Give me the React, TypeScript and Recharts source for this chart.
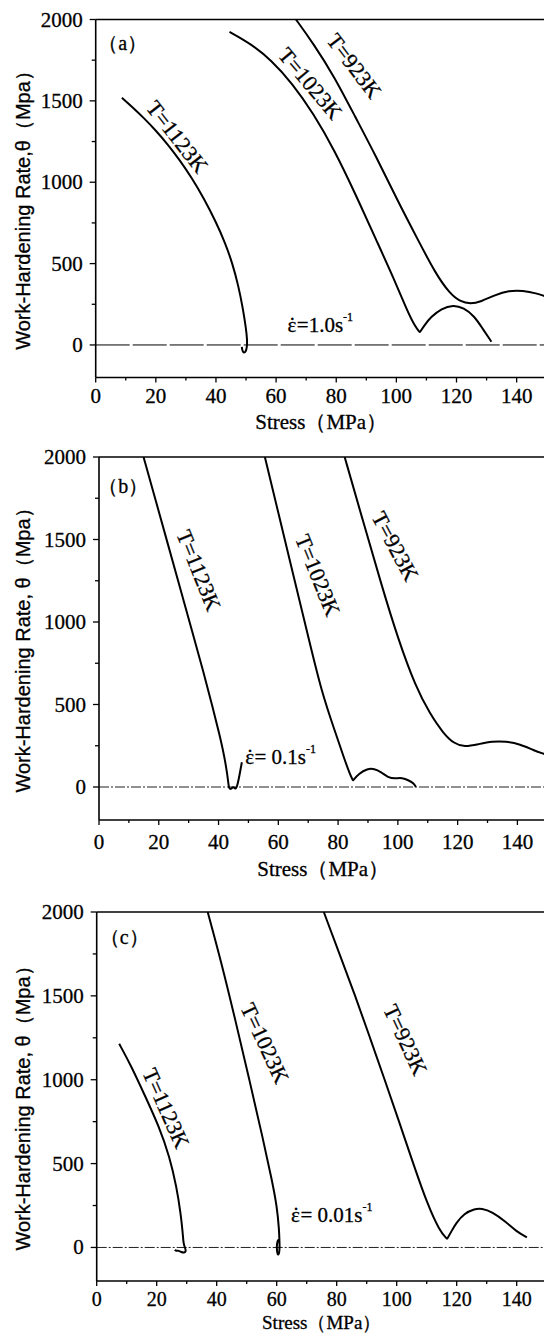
import React from "react";
import {
  LineChart,
  Line,
  XAxis,
  YAxis,
  ReferenceLine,
  ReferenceDot,
} from "recharts";

type Pair = [number, number];

// [stress (MPa), work-hardening rate theta (MPa)]

// (a) strain rate 1.0 s-1
const a1123K: Pair[] = [
  [8.7, 1519], [12, 1465], [16, 1395], [20, 1318], [24, 1232], [28, 1135],
  [32, 1025], [36, 900], [40, 755], [43, 630], [45.5, 500], [47.5, 360],
  [49, 220], [50, 100], [50.4, 30], [50.3, -15], [49.9, -42], [49.3, -50],
  [48.8, -38], [48.6, -12],
];
const a1023K: Pair[] = [
  [44.5, 1924], [51.5, 1852], [58.4, 1750], [65.4, 1607], [72.4, 1423],
  [79.4, 1197], [86.3, 931], [93.3, 645], [99.1, 410], [103.5, 215],
  [106.3, 110], [107.8, 78], [107.8, 78], [109.5, 125], [111.5, 172],
  [115, 224], [118.9, 246], [122.4, 228], [125.9, 178], [128.7, 100],
  [131.6, 20],
];
const a923K: Pair[] = [
  [66.6, 2000], [72.4, 1852], [79.4, 1648], [86.3, 1402], [93.3, 1157],
  [100.3, 890], [107.2, 645], [113.0, 440], [117.7, 317], [121.2, 266],
  [124.7, 252], [128.1, 266], [132.8, 307], [137.4, 334], [142.1, 334],
  [146.7, 317], [149.3, 300],
];

// (b) strain rate 0.1 s-1
const b1123K: Pair[] = [
  [14.9, 2000], [19, 1735], [23, 1475], [27, 1215], [31, 955], [35, 695],
  [38, 485], [40.3, 320], [41.9, 190], [42.9, 80], [43.3, 20], [43.5, -10],
  [44.2, -14], [44.9, 5], [45.5, -12], [46.1, -5], [46.8, 50], [47.8, 150],
];
const b1023K: Pair[] = [
  [55.5, 2000], [60, 1662], [65, 1287], [70, 912], [74.5, 575], [79, 335],
  [82, 175], [84, 75], [85, 40], [85, 40], [86.9, 81], [89.8, 111],
  [92.1, 111], [94.4, 91], [96.7, 57], [99.1, 51], [101.4, 57], [103.7, 40],
  [105.5, 20], [106.0, 0],
];
const b923K: Pair[] = [
  [82.2, 2000], [88.6, 1596], [94.4, 1232], [100.2, 889], [106.0, 606],
  [110.7, 444], [115.3, 323], [118.8, 263], [122.3, 242], [126.9, 259],
  [131.6, 277], [136.2, 277], [140.9, 259], [145.5, 222], [149, 200],
];

// (c) strain rate 0.01 s-1
const c1123K: Pair[] = [
  [7.5, 1214], [11.6, 1079], [16.2, 900], [20.8, 720], [24.3, 541],
  [26.6, 362], [28.0, 203], [28.7, 84], [28.9, 24], [29.5, -5], [29.8, -22],
  [29.2, -33], [28.2, -28], [27.3, -18], [26.6, -22], [26.0, -15],
];
const c1023K: Pair[] = [
  [37.0, 2000], [41.6, 1696], [46.2, 1357], [50.9, 999], [55.5, 641],
  [58.4, 402], [60.1, 243], [60.8, 103], [60.9, 44], [61.0, 0], [60.8, -40],
  [60.3, -46], [60.0, -10], [60.1, 30], [60.6, 50], [61.0, 40],
];
const c923K: Pair[] = [
  [75.7, 2000], [80.9, 1750], [86.2, 1500], [91.1, 1250], [96.0, 1000],
  [100.8, 750], [105.5, 500], [110.4, 250], [114.3, 100], [116.8, 50],
  [116.8, 50], [118.2, 95], [119.8, 145], [122.5, 203], [126.0, 230],
  [128.3, 233], [131.8, 213], [136.4, 153], [139.9, 95], [143.4, 60],
];

const xTicks = [0, 10, 20, 30, 40, 50, 60, 70, 80, 90, 100, 110, 120, 130, 140];
const yTicks = [0, 250, 500, 750, 1000, 1250, 1500, 1750, 2000];

const SERIF = "'Liberation Serif', 'Times New Roman', serif";
const SANS = "'Liberation Sans', Arial, sans-serif";

type Note = {
  text: string;
  x: number;
  y: number;
  angle?: number;
  rate?: string;
  anchor?: string;
};

const notesA: Note[] = [
  { text: "（a）", x: 9, y: 1856 },
  { text: "T=1123K", x: 27.1, y: 1279, angle: 52 },
  { text: "T=1023K", x: 71.4, y: 1607, angle: 50 },
  { text: "T=923K", x: 86, y: 1715, angle: 53 },
  { text: "", rate: "=1.0s", x: 74.7, y: 123 },
];
const notesB: Note[] = [
  { text: "（b）", x: 8.1, y: 1826 },
  { text: "T=1123K", x: 33.4, y: 1313, angle: 68 },
  { text: "T=1023K", x: 73.2, y: 1283, angle: 68 },
  { text: "T=923K", x: 99.1, y: 1459, angle: 62 },
  { text: "", rate: "= 0.1s", x: 48.9, y: 180, anchor: "start" },
];
const notesC: Note[] = [
  { text: "（c）", x: 9.2, y: 1852 },
  { text: "T=1123K", x: 23.1, y: 830, angle: 66 },
  { text: "T=1023K", x: 56.1, y: 1218, angle: 65 },
  { text: "T=923K", x: 102.9, y: 1238, angle: 65 },
  { text: "", rate: "= 0.01s", x: 64.8, y: 191, anchor: "start" },
];

const toPts = (p: Pair[]) => p.map(([x, y]) => ({ x, y }));

const ink = { fill: "#000", stroke: "#000", strokeWidth: 0.3 };

const XTick = (props: any) => {
  const { x, y, payload, labelOffset, fontSize } = props;
  const major = payload.value % 20 === 0;
  return (
    <g>
      <line x1={x} x2={x} y1={y} y2={y + (major ? 5 : 3)} stroke="#000" strokeWidth={1.3} />
      {major && (
        <text x={x} y={y + labelOffset} textAnchor="middle" dominantBaseline="central"
          fontFamily={SERIF} fontSize={fontSize} {...ink}>
          {payload.value}
        </text>
      )}
    </g>
  );
};

const YTick = (props: any) => {
  const { x, y, payload } = props;
  const major = payload.value % 500 === 0;
  return (
    <g>
      <line x1={x} x2={x - (major ? 6 : 4)} y1={y} y2={y} stroke="#000" strokeWidth={1.3} />
      {major && (
        <text x={x - 13} y={y} textAnchor="end" dominantBaseline="central"
          fontFamily={SERIF} fontSize={21} {...ink}>
          {payload.value}
        </text>
      )}
    </g>
  );
};

const NoteText = ({ cx, cy, note }: { cx: number; cy: number; note: Note }) => {
  if (note.rate) {
    return (
      <text x={cx} y={cy} textAnchor={note.anchor || "middle"} dominantBaseline="central"
        fontFamily={SERIF} fontSize={21} {...ink}>
        <tspan>ε</tspan>
        <tspan dx={-7.5}>˙</tspan>
        <tspan dx={1}>{note.rate}</tspan>
        <tspan dy={-8} fontSize={12}>-1</tspan>
      </text>
    );
  }
  return (
    <text
      x={cx}
      y={cy}
      transform={note.angle ? `rotate(${note.angle} ${cx} ${cy})` : undefined}
      textAnchor={note.anchor || "middle"}
      dominantBaseline="central"
      fontFamily={SERIF}
      fontSize={note.angle ? 22 : 20}
      {...ink}
    >
      {note.text}
    </text>
  );
};

type PanelProps = {
  top: number;
  height: number;
  marginTop: number;
  marginBottom: number;
  axisHeight: number;
  axisWidth: number;
  xMax: number;
  series: Pair[][];
  notes: Note[];
  yTitle: string;
  tickOffset: number;
  tickFont: number;
  titleOffset: number;
  titleFont: number;
  zeroDash: string;
  zeroColor: string;
};

const Panel = (p: PanelProps) => (
  <div style={{ position: "absolute", left: 0, top: p.top }}>
    <LineChart
      width={544}
      height={p.height}
      margin={{ top: p.marginTop, right: 0, bottom: p.marginBottom, left: 0 }}
    >
      <XAxis
        type="number"
        dataKey="x"
        domain={[0, p.xMax]}
        ticks={xTicks}
        interval={0}
        allowDataOverflow
        height={p.axisHeight}
        tickSize={0}
        tickMargin={0}
        tickLine={false}
        axisLine={{ stroke: "#000", strokeWidth: 1.6 }}
        tick={<XTick labelOffset={p.tickOffset} fontSize={p.tickFont} />}
        label={{
          content: (lp: any) => {
            const vb = lp.viewBox;
            return (
              <text
                x={vb.x + (vb.width * 75) / p.xMax}
                y={vb.y + p.titleOffset}
                textAnchor="middle"
                dominantBaseline="central"
                fontFamily={SERIF}
                fontSize={p.titleFont}
                {...ink}
              >
                Stress（MPa）
              </text>
            );
          },
        }}
      />
      <YAxis
        type="number"
        domain={[-200, 2000]}
        ticks={yTicks}
        interval={0}
        allowDataOverflow
        width={p.axisWidth}
        tickSize={0}
        tickMargin={0}
        tickLine={false}
        axisLine={{ stroke: "#000", strokeWidth: 1.6 }}
        tick={<YTick />}
        label={{
          content: (lp: any) => {
            const vb = lp.viewBox;
            const cx = vb.x + 23;
            const cy = vb.y + vb.height / 2 + 7;
            return (
              <text
                x={cx}
                y={cy}
                transform={`rotate(-90 ${cx} ${cy})`}
                textAnchor="middle"
                dominantBaseline="central"
                fontFamily={SANS}
                fontSize={20}
                {...ink}
              >
                {p.yTitle}
              </text>
            );
          },
        }}
      />
      <ReferenceLine y={2000} stroke="#000" strokeWidth={1.6} />
      <ReferenceLine y={0} stroke={p.zeroColor} strokeWidth={1} strokeDasharray={p.zeroDash} />
      {p.series.map((s, i) => (
        <Line
          key={i}
          data={toPts(s)}
          dataKey="y"
          type="basis"
          stroke="#000"
          strokeWidth={2}
          dot={false}
          isAnimationActive={false}
        />
      ))}
      {p.notes.map((n, i) => (
        <ReferenceDot
          key={"n" + i}
          x={n.x}
          y={n.y}
          r={1}
          shape={(sp: any) => <NoteText cx={sp.cx} cy={sp.cy} note={n} />}
        />
      ))}
    </LineChart>
  </div>
);

export default function App() {
  return (
    <div
      style={{
        position: "absolute",
        left: 0,
        top: 0,
        width: 544,
        height: 1334,
        overflow: "hidden",
        background: "#fff",
      }}
    >
      <Panel
        top={0}
        height={440}
        marginTop={19.5}
        marginBottom={12.5}
        axisHeight={50}
        axisWidth={95.7}
        xMax={149.1}
        series={[a1123K, a1023K, a923K]}
        notes={notesA}
        yTitle="Work-Hardening Rate,θ（Mpa）"
        tickOffset={18}
        tickFont={21}
        titleOffset={44}
        titleFont={21}
        zeroDash="34 3"
        zeroColor="#000"
      />
      <Panel
        top={440}
        height={454}
        marginTop={17}
        marginBottom={24}
        axisHeight={50}
        axisWidth={99}
        xMax={148.9}
        series={[b1123K, b1023K, b923K]}
        notes={notesB}
        yTitle="Work-Hardening Rate, θ（Mpa）"
        tickOffset={22}
        tickFont={21}
        titleOffset={49}
        titleFont={21}
        zeroDash="10 2 2 2"
        zeroColor="#222"
      />
      <Panel
        top={880}
        height={454}
        marginTop={32}
        marginBottom={8}
        axisHeight={45}
        axisWidth={96.7}
        xMax={149.1}
        series={[c1123K, c1023K, c923K]}
        notes={notesC}
        yTitle="Work-Hardening Rate, θ（Mpa）"
        tickOffset={18}
        tickFont={20}
        titleOffset={41}
        titleFont={19}
        zeroDash="10 2 2 2"
        zeroColor="#222"
      />
    </div>
  );
}
